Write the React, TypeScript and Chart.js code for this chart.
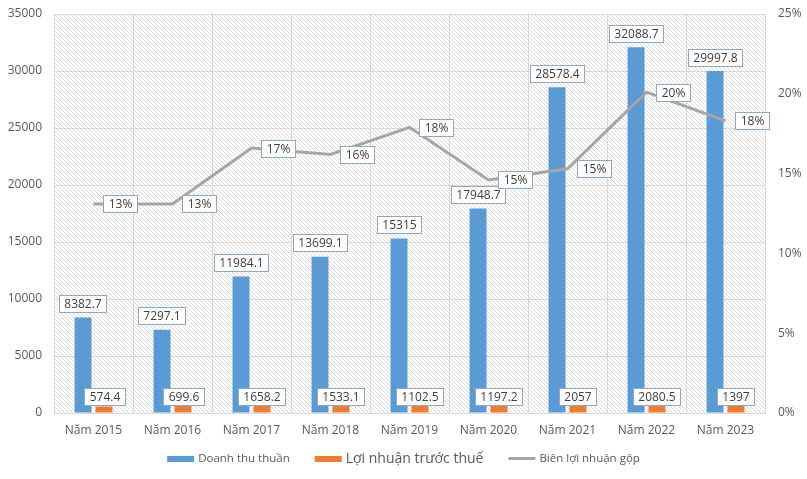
import React, { useEffect, useRef } from 'react';
import { Chart, registerables } from 'chart.js';

Chart.register(...registerables);

const categories = ['Năm 2015', 'Năm 2016', 'Năm 2017', 'Năm 2018', 'Năm 2019', 'Năm 2020', 'Năm 2021', 'Năm 2022', 'Năm 2023'];
const revenue = [8382.7, 7297.1, 11984.1, 13699.1, 15315, 17948.7, 28578.4, 32088.7, 29997.8];
const profit = [574.4, 699.6, 1658.2, 1533.1, 1102.5, 1197.2, 2057, 2080.5, 1397];
const margin = [13.1, 13.1, 16.6, 16.2, 17.9, 14.6, 15.3, 20.1, 18.3];
const seriesNames = ['Doanh thu thuần', 'Lợi nhuận trước thuế', 'Biên lợi nhuận gộp'];

const BLUE = '#5b9bd5';
const ORANGE = '#ed7d31';
const GRAY = '#a5a5a5';
const TEXT = '#595959';
const GRID = '#d9d9d9';
const FONT = '"Open Sans", sans-serif';

function makePattern(ctx: CanvasRenderingContext2D) {
  const c = document.createElement('canvas');
  c.width = 4;
  c.height = 4;
  const g = c.getContext('2d')!;
  g.fillStyle = '#ffffff';
  g.fillRect(0, 0, 4, 4);
  g.fillStyle = '#dcdcdc';
  for (let i = 0; i < 4; i++) g.fillRect(i, i, 1, 1);
  return ctx.createPattern(c, 'repeat');
}

function drawBox(ctx: CanvasRenderingContext2D, text: string, cx: number, cy: number, align: 'center' | 'left') {
  ctx.font = `12px ${FONT}`;
  const w = ctx.measureText(text).width + 10;
  const h = 17;
  const left = align === 'center' ? cx - w / 2 : cx;
  const top = cy - h / 2;
  ctx.fillStyle = '#ffffff';
  ctx.fillRect(Math.round(left) + 0.5, Math.round(top) + 0.5, Math.round(w), h);
  ctx.strokeStyle = '#8fa9c4';
  ctx.lineWidth = 1;
  ctx.strokeRect(Math.round(left) + 0.5, Math.round(top) + 0.5, Math.round(w), h);
  ctx.fillStyle = '#404040';
  ctx.textAlign = 'center';
  ctx.textBaseline = 'middle';
  ctx.fillText(text, Math.round(left) + 0.5 + Math.round(w) / 2, Math.round(top) + 0.5 + h / 2 + 0.5);
}

const bgPlugin = {
  id: 'hatchBg',
  beforeDraw(chart: any) {
    const { ctx, chartArea } = chart;
    const p = makePattern(ctx);
    ctx.save();
    ctx.fillStyle = '#ffffff';
    ctx.fillRect(0, 0, chart.width, chart.height);
    if (p) {
      ctx.fillStyle = p;
      ctx.fillRect(chartArea.left, chartArea.top, chartArea.right - chartArea.left, chartArea.bottom - chartArea.top);
    }
    ctx.restore();
  },
};

const labelPlugin = {
  id: 'boxLabels',
  afterDatasetsDraw(chart: any) {
    const { ctx, chartArea } = chart;
    ctx.save();
    const m0 = chart.getDatasetMeta(0);
    m0.data.forEach((el: any, i: number) => {
      drawBox(ctx, String(revenue[i]), el.x, el.y - 14, 'center');
    });
    const m1 = chart.getDatasetMeta(1);
    m1.data.forEach((el: any, i: number) => {
      drawBox(ctx, String(profit[i]), el.x, chartArea.bottom - 17, 'center');
    });
    const m2 = chart.getDatasetMeta(2);
    m2.data.forEach((el: any, i: number) => {
      drawBox(ctx, Math.round(margin[i]) + '%', el.x + 9, el.y, 'left');
    });
    ctx.restore();
  },
};

const legendPlugin = {
  id: 'customLegend',
  afterDraw(chart: any) {
    const { ctx } = chart;
    ctx.save();
    const fonts = [`11.5px ${FONT}`, `14px ${FONT}`, `11.5px ${FONT}`];
    const sw = 27;
    const gap = 4;
    const spacing = 25;
    const widths = seriesNames.map((n, i) => {
      ctx.font = fonts[i];
      return sw + gap + ctx.measureText(n).width;
    });
    const total = widths.reduce((a, b) => a + b, 0) + spacing * (widths.length - 1);
    let x = chart.width / 2 - total / 2;
    const y = 459;
    seriesNames.forEach((n, i) => {
      if (i === 2) {
        ctx.strokeStyle = GRAY;
        ctx.lineWidth = 3;
        ctx.beginPath();
        ctx.moveTo(x, y - 0.5);
        ctx.lineTo(x + sw, y - 0.5);
        ctx.stroke();
      } else {
        ctx.fillStyle = i === 0 ? BLUE : ORANGE;
        ctx.fillRect(x, y - 3, sw, 6);
      }
      ctx.font = fonts[i];
      ctx.fillStyle = TEXT;
      ctx.textAlign = 'left';
      ctx.textBaseline = 'middle';
      ctx.fillText(n, x + sw + gap, y);
      x += widths[i] + spacing;
    });
    ctx.restore();
  },
};

export default function App() {
  const ref = useRef<HTMLCanvasElement>(null);
  useEffect(() => {
    document.body.style.margin = '0';
    const chart = new Chart(ref.current!, {
      type: 'bar',
      data: {
        labels: categories,
        datasets: [
          {
            type: 'bar',
            label: seriesNames[0],
            data: revenue,
            backgroundColor: BLUE,
            yAxisID: 'y',
            categoryPercentage: 0.53,
            barPercentage: 0.81,
            order: 1,
          },
          {
            type: 'bar',
            label: seriesNames[1],
            data: profit,
            backgroundColor: ORANGE,
            yAxisID: 'y',
            categoryPercentage: 0.53,
            barPercentage: 0.81,
            order: 2,
          },
          {
            type: 'line',
            label: seriesNames[2],
            data: margin,
            borderColor: GRAY,
            borderWidth: 3,
            pointRadius: 0,
            yAxisID: 'y1',
            order: 0,
          } as any,
        ],
      },
      options: {
        responsive: false,
        animation: false,
        layout: { padding: { top: 14, left: 0, right: 0, bottom: 0 } },
        plugins: { legend: { display: false }, tooltip: { enabled: false } },
        scales: {
          x: {
            grid: { color: GRID, drawTicks: false, offset: true },
            border: { color: GRID },
            ticks: { color: TEXT, font: { family: FONT, size: 12 }, padding: 10 },
            afterFit: (s: any) => { s.height = 66; s.paddingLeft = 0; s.paddingRight = 0; },
          },
          y: {
            position: 'left',
            min: 0,
            max: 35000,
            grid: { color: GRID, drawTicks: false },
            border: { color: GRID },
            ticks: { stepSize: 5000, color: TEXT, font: { family: FONT, size: 12 }, padding: 12, callback: (v: any) => String(v) },
            afterFit: (s: any) => { s.width = 54; s.paddingTop = 0; s.paddingBottom = 0; },
          },
          y1: {
            position: 'right',
            min: 0,
            max: 25,
            grid: { display: false, drawTicks: false },
            border: { display: false },
            ticks: { stepSize: 5, color: TEXT, font: { family: FONT, size: 12 }, padding: 13, callback: (v: any) => v + '%' },
            afterFit: (s: any) => { s.width = 42; s.paddingTop = 0; s.paddingBottom = 0; },
          },
        },
      },
      plugins: [bgPlugin, labelPlugin, legendPlugin],
    });
    return () => chart.destroy();
  }, []);
  return (
    <div style={{ width: 807, height: 479 }}>
      <canvas ref={ref} width={807} height={479} />
    </div>
  );
}
